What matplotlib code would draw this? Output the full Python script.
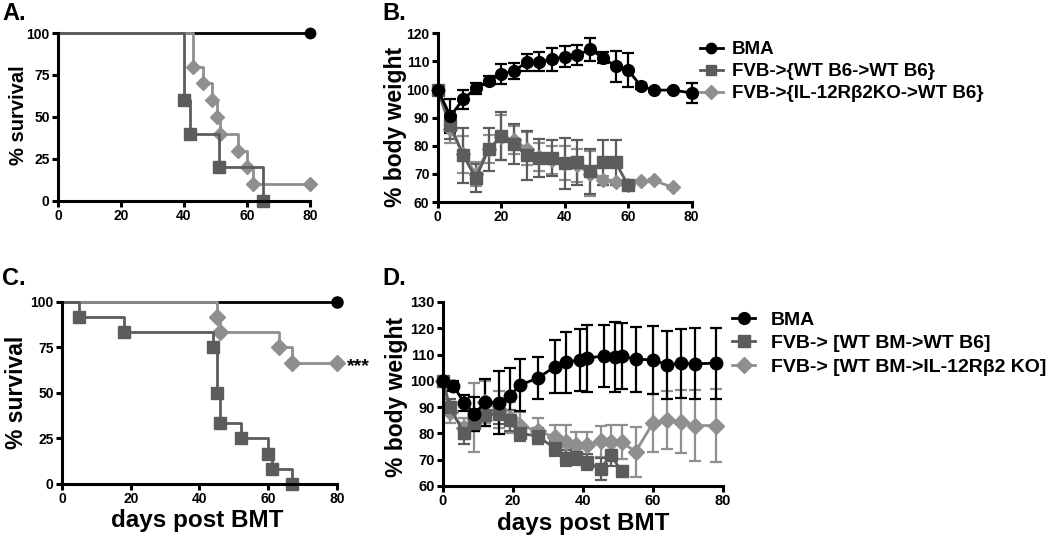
import matplotlib
matplotlib.use("Agg")
import matplotlib.pyplot as plt
from matplotlib.lines import Line2D

# ---- data ----
# A: survival
a_bma_t = [0, 80]
a_bma_s = [100, 100]
a_wt_t = [0, 40, 42, 51, 65]
a_wt_s = [100, 60, 40, 20, 0]
a_ko_t = [0, 43, 46, 49, 50.5, 51.5, 57, 60, 62, 80]
a_ko_s = [100, 80, 70, 60, 50, 40, 30, 20, 10, 10]

# B: body weight
b_bma_x = [0, 4, 8, 12, 16, 20, 24, 28, 32, 36, 40, 44, 48, 52, 56, 60, 64, 68, 74, 80]
b_bma_y = [100, 90.5, 96.6, 100.4, 103.1, 105.5, 106.6, 109.7, 109.9, 110.7, 111.7,
           112.3, 114.3, 111.4, 108.3, 106.9, 101.2, 99.8, 99.8, 98.8]
b_bma_e = [0, 6, 3.4, 2, 1.6, 3.5, 3, 3, 3.3, 4, 3.7, 3.4, 4, 2, 5.5, 6, 1, 0.5, 0.5, 3.6]
b_wt_x = [0, 4, 8, 12, 16, 20, 24, 28, 32, 36, 40, 44, 48, 52, 56, 60]
b_wt_y = [100, 87.3, 76.6, 68.6, 78.7, 83.4, 80.6, 76.6, 75.7, 75.7, 73.7, 74.1,
          71.0, 74.1, 74.1, 65.9]
b_wt_e = [0, 5, 9.8, 5, 7.7, 8.5, 7, 8.6, 6.8, 6.4, 9, 8, 8, 8, 8, 1.5]
b_ko_x = [0, 4, 8, 12, 16, 20, 24, 28, 32, 36, 40, 44, 48, 52, 56, 60, 64, 68, 74]
b_ko_y = [100, 86, 77, 70, 79, 83, 82, 79, 76, 75, 74, 73, 70, 67.7, 67, 66, 67.4, 67.7, 65.2]
b_ko_e = [0, 5, 6.6, 4.3, 5, 8, 5, 6, 5, 5, 6, 6, 8, 1.5, 1, 1.5, 0.5, 0.5, 0.5]

# C: survival
c_bma_t = [0, 80]
c_bma_s = [100, 100]
c_wt_t = [0, 5, 18, 44, 45, 46, 52, 60, 61, 67]
c_wt_s = [100, 91.7, 83.3, 75, 50, 33.3, 25, 16.7, 8.3, 0]
c_ko_t = [0, 45, 46, 63, 67, 80]
c_ko_s = [100, 91.7, 83.3, 75, 66.7, 66.7]

# D: body weight
d_bma_x = [0, 3, 6, 9, 12, 16, 19, 22, 27, 32, 35, 39, 41, 46, 49, 51, 55, 60, 64, 68, 72, 78]
d_bma_y = [100, 98.1, 91.7, 87.4, 91.8, 91.7, 94.2, 98.4, 101, 105.4, 107, 108, 108.6,
           109.5, 109, 109.5, 108.2, 108, 106.1, 106.7, 106.5, 106.7]
d_bma_e = [0, 2, 3, 6.5, 8.9, 12, 10.8, 9.8, 8, 10.2, 11.5, 11.8, 12.7, 11.8, 13.2,
           12.5, 12.3, 13, 12.9, 13.1, 13.5, 13.5]
d_wt_x = [0, 2, 6, 9, 12, 16, 19, 22, 27, 32, 35, 38, 41, 45, 48, 51]
d_wt_y = [100, 90, 80, 84, 87, 87.5, 85, 80, 79, 74.3, 70.5, 71.1, 69, 66.6, 71.7, 65.6]
d_wt_e = [0, 3, 4, 3, 4, 4, 4, 3, 3, 3, 3, 3, 3, 4.2, 4, 0]
d_ko_x = [0, 2, 6, 9, 12, 16, 19, 22, 27, 32, 35, 38, 41, 45, 48, 51, 55, 60, 64, 68, 72, 78]
d_ko_y = [100, 88, 82, 86, 92, 89, 86, 83, 81, 78.5, 76.8, 75.5, 75.5, 77, 76.8, 76.8,
          73, 84, 85, 84.4, 83, 83]
d_ko_e = [0, 4, 4, 13, 8, 7, 6, 5, 5, 4.7, 6.4, 5, 5, 6, 6.4, 6.4, 9.5, 11, 11, 12, 13.5, 14]

legend_b = ['BMA', 'FVB->{WT B6->WT B6}', 'FVB->{IL-12R\u03b22KO->WT B6}']
legend_d = ['BMA', 'FVB-> [WT BM->WT B6]', 'FVB-> [WT BM->IL-12R\u03b22 KO]']

BLACK = 'black'
DARK = '#5c5c5c'
LIGHT = '#8f8f8f'

plt.rcParams['font.family'] = ['Liberation Sans', 'DejaVu Sans']
plt.rcParams['font.weight'] = 'bold'

fig = plt.figure(figsize=(10.5, 5.41), dpi=100)


def style(ax, ylim, yticks, fs):
    ax.spines[['top', 'right']].set_visible(False)
    for s in ['left', 'bottom']:
        ax.spines[s].set_linewidth(2.2)
    ax.set_xlim(0, 80)
    ax.set_xticks([0, 20, 40, 60, 80])
    ax.set_ylim(*ylim)
    ax.set_yticks(yticks)
    ax.tick_params(width=2.2, length=4, labelsize=fs, pad=2)
    for lab in ax.get_xticklabels() + ax.get_yticklabels():
        lab.set_fontweight('bold')


def km(ax, t, s, color, marker, ms, show_first=False):
    ax.plot(t, s, drawstyle='steps-post', color=color, lw=2, clip_on=False)
    st = 0 if show_first else 1
    ax.plot(t[st:], s[st:], ls='none', marker=marker, ms=ms, color=color, clip_on=False)


def eb(ax, x, y, e, color, marker, ms):
    cont = ax.errorbar(x, y, yerr=e, color=color, marker=marker, ms=ms, lw=2,
                       elinewidth=1.6, capsize=4.5, capthick=1.6)
    for art in cont.get_children():
        art.set_clip_on(False)


# ---- A ----
axA = fig.add_axes([0.0552, 0.6285, 0.240, 0.3105])
km(axA, a_bma_t, a_bma_s, BLACK, 'o', 7.5)
km(axA, a_ko_t, a_ko_s, LIGHT, 'D', 7)
km(axA, a_wt_t, a_wt_s, DARK, 's', 8)
style(axA, (0, 100), [0, 25, 50, 75, 100], 10)
axA.set_ylabel('% survival', fontsize=14.5, fontweight='bold')
axA.yaxis.set_label_coords(-0.12, 0.51)

# ---- B ----
axB = fig.add_axes([0.4169, 0.6266, 0.2419, 0.3118])
eb(axB, b_ko_x, b_ko_y, b_ko_e, LIGHT, 'D', 7.5)
eb(axB, b_wt_x, b_wt_y, b_wt_e, DARK, 's', 8)
eb(axB, b_bma_x, b_bma_y, b_bma_e, BLACK, 'o', 8.5)
style(axB, (60, 120), [60, 70, 80, 90, 100, 110, 120], 10)
axB.set_ylabel('% body weight', fontsize=16.5, fontweight='bold')
axB.yaxis.set_label_coords(-0.12, 0.445)

# ---- C ----
axC = fig.add_axes([0.059, 0.1054, 0.2619, 0.3364])
km(axC, c_bma_t, c_bma_s, BLACK, 'o', 8)
km(axC, c_ko_t, c_ko_s, LIGHT, 'D', 8)
km(axC, c_wt_t, c_wt_s, DARK, 's', 9)
style(axC, (0, 100), [0, 25, 50, 75, 100], 10)
axC.set_ylabel('% survival', fontsize=16.5, fontweight='bold')
axC.yaxis.set_label_coords(-0.125, 0.503)
axC.set_xlabel('days post BMT', fontsize=17.5, fontweight='bold')
axC.xaxis.set_label_coords(0.49, -0.14)
axC.annotate('***', xy=(80, c_ko_s[-1]), xytext=(7, -3), textcoords='offset points',
             ha='left', va='center', fontsize=14, fontweight='bold')

# ---- D ----
axD = fig.add_axes([0.4219, 0.1017, 0.2667, 0.3401])
eb(axD, d_ko_x, d_ko_y, d_ko_e, LIGHT, 'D', 8)
eb(axD, d_wt_x, d_wt_y, d_wt_e, DARK, 's', 8.5)
eb(axD, d_bma_x, d_bma_y, d_bma_e, BLACK, 'o', 9)
style(axD, (60, 130), [60, 70, 80, 90, 100, 110, 120, 130], 10.5)
axD.set_ylabel('% body weight', fontsize=16.5, fontweight='bold')
axD.yaxis.set_label_coords(-0.125, 0.484)
axD.set_xlabel('days post BMT', fontsize=17.5, fontweight='bold')
axD.xaxis.set_label_coords(0.5, -0.14)

# ---- legends ----
def handles(ms):
    return [Line2D([], [], color=BLACK, marker='o', ms=ms, lw=2),
            Line2D([], [], color=DARK, marker='s', ms=ms, lw=2),
            Line2D([], [], color=LIGHT, marker='D', ms=ms - 0.5, lw=2)]


fig.legend(handles(7.5), legend_b, loc='center left', bbox_to_anchor=(0.6667, 1 - 71.7 / 541),
           frameon=False, prop={'size': 13.5, 'weight': 'bold'}, handlelength=1.2,
           handletextpad=0.5, labelspacing=0.25, borderpad=0, borderaxespad=0)
fig.legend(handles(8.5), legend_d, loc='center left', bbox_to_anchor=(0.697, 1 - 343.3 / 541),
           frameon=False, prop={'size': 14, 'weight': 'bold'}, handlelength=1.2,
           handletextpad=0.8, labelspacing=0.3, borderpad=0, borderaxespad=0)

# ---- panel letters ----
for x, y, s in [(2, 20, 'A.'), (382, 20, 'B.'), (2, 285, 'C.'), (382, 285, 'D.')]:
    fig.text(x / 1050, 1 - y / 541, s, fontsize=17, fontweight='bold', va='baseline')

fig.savefig('out.png', dpi=100)
